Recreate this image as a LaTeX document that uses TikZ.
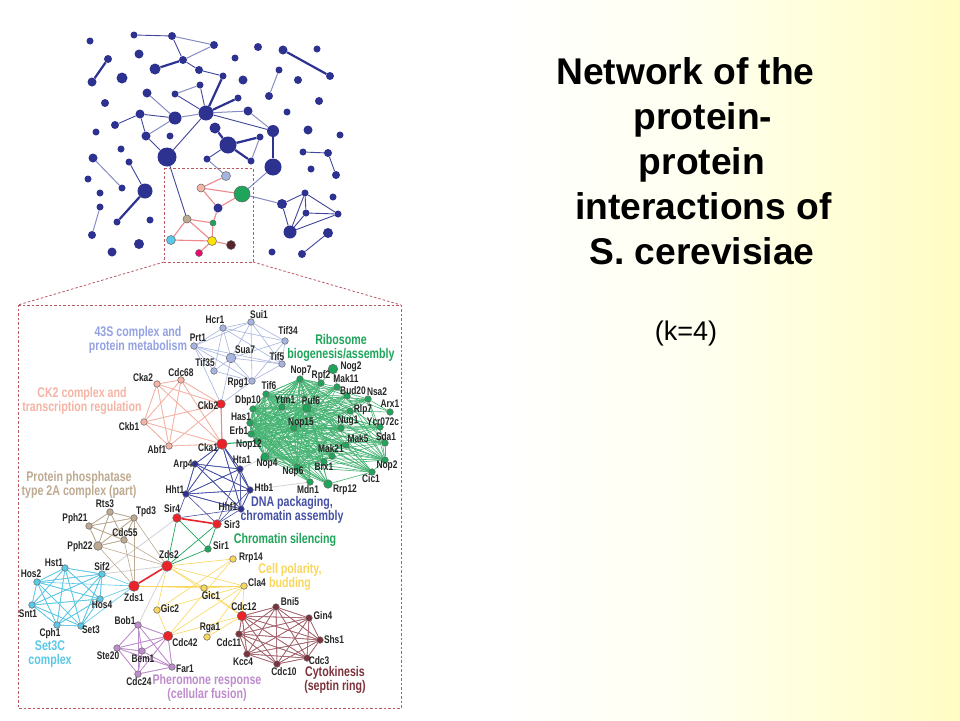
\documentclass[tikz,border=0pt]{standalone}
\usepackage{fontspec}
\setmainfont{Liberation Sans}
\newfontfamily\condf[FakeStretch=0.76]{Liberation Sans}
\definecolor{navy}{RGB}{45,50,145}
\definecolor{navym}{RGB}{65,70,155}
\definecolor{navyl}{RGB}{135,140,195}
\definecolor{bgy}{RGB}{255,252,195}
\definecolor{bgm}{RGB}{255,255,240}
\definecolor{bgn}{RGB}{255,255,222}
\definecolor{redl}{RGB}{240,135,140}
\definecolor{boxr}{RGB}{185,90,100}
\definecolor{peri}{RGB}{165,180,225}
\definecolor{salm}{RGB}{245,180,165}
\definecolor{tanc}{RGB}{190,170,145}
\definecolor{cyanc}{RGB}{90,200,230}
\definecolor{yelc}{RGB}{250,215,90}
\definecolor{purc}{RGB}{190,140,205}
\definecolor{marc}{RGB}{125,50,60}
\definecolor{marl}{RGB}{165,100,110}
\definecolor{grnc}{RGB}{30,165,90}
\definecolor{grnl}{RGB}{70,180,115}
\definecolor{blc}{RGB}{70,80,165}
\definecolor{redn}{RGB}{235,35,40}
\definecolor{greyl}{RGB}{210,210,215}
\pgfdeclarehorizontalshading{bgshade}{100bp}{color(0bp)=(white); color(25bp)=(white); color(51bp)=(white); color(61.5bp)=(bgm); color(66.7bp)=(bgn); color(75bp)=(bgy); color(100bp)=(bgy)}
\pgfdeclarelayer{back}
\pgfdeclarelayer{edge}
\pgfsetlayers{back,edge,main}
\tikzset{
  x=1pt,y=-1pt,
  dotn/.style={circle,inner sep=0pt,fill=navy,draw=none},
  dotc/.style={circle,inner sep=0pt,draw=black!60,line width=0.5pt},
  lab/.style={inner sep=0pt,text=black!85,font=\condf\fontsize{11}{12}\selectfont\bfseries},
  head/.style={inner sep=0pt,align=center,font=\condf\fontsize{14}{14}\selectfont\bfseries},
  titl/.style={inner sep=0pt,anchor=base,font=\fontsize{37.2}{45}\selectfont\bfseries},
  boxl/.style={draw=boxr,line width=0.8pt,dash pattern=on 2.5pt off 2pt},
  tthin/.style={draw=navyl,line width=1pt},
  tmid/.style={draw=navym,line width=0.9pt},
  tthick/.style={draw=navy,line width=2.2pt},
  rl/.style={draw=redl,line width=1.1pt},
  le/.style={line width=0.6pt}
}
\begin{document}
\begin{tikzpicture}
\useasboundingbox (0,0) rectangle (960,720);
\begin{pgfonlayer}{back}
\shade[shading=bgshade] (0,0) rectangle (960,720);
\end{pgfonlayer}
% upper network
\foreach \n/\x/\y/\s in {t0/90/41/7,t1/134/35/7,t2/172/36/8,t3/214/45/8,t4/108/59/8,t5/92/82/9,t6/139/54/9,t7/155/69/11,t8/183/60/8,t9/199/70/8,t10/223/76/7,t11/122/78/11,t12/235/58/7,t13/258/47/8,t14/283/50/9,t15/317/49/7,t16/330/76/8,t17/279/70/7,t18/269/96/8,t19/298/80/8,t20/243/80/9,t21/319/101/8,t22/147/93/9,t23/175/94/7,t24/200/85/7,t25/238/98/7,t26/105/103/8,t27/206/113/15,t28/175/118/13,t29/140/114/9,t30/115/125/8,t31/248/111/9,t32/287/112/7,t33/96/132/7,t34/146/136/9,t35/170/136/7,t36/215/128/11,t37/228/145/17,t38/260/137/7,t39/273/131/12,t40/308/130/9,t41/340/135/7,t42/121/149/7,u1/167/157/19,u2/207/159/7,u3/251/161/7,u4/273/167/17,u5/93/158/9,u7/129/162/7,u8/122/188/7,u9/88/179/7,u10/100/193/7,u11/145/191/15,u12/100/207/7,u13/117/222/7,u14/150/220/7,u15/92/235/8,u16/112/252/9,u17/139/244/10,u21/218/208/9,u28/303/152/7,u29/328/153/8,u30/311/169/7,u31/336/175/8,u32/282/204/10,u33/305/193/7,u34/333/197/7,u35/306/213/7,u36/338/214/7,u37/290/232/13,u38/328/233/10,u39/302/254/8,u40/272/252/7}
  {\node[dotn,minimum size=\s pt] (\n) at (\x,\y) {};}
\foreach \n/\x/\y/\s/\c in {u18/226/176/9/peri,u19/201/188/8/salm,u20/242/194/16/grnc,u22/213/223/6/grnc,u23/187/219/8/tanc,u24/171/240/9/cyanc,u25/212/241/9/yellow!85!orange,u26/231/245/9/marc!70!black,u27/199/253/7/magenta!70!red}
  {\node[dotc,fill=\c,minimum size=\s pt] (\n) at (\x,\y) {};}
\begin{pgfonlayer}{edge}
\foreach \a/\b in {t2/t3,t3/t8,t17/t18,t23/t24,t27/t31,t28/t22,t34/t28,u4/u20,t38/u3,u5/u8,u12/u15,u20/u32,t28/t27,t31/t39,u2/u18}
  \draw[tthin] (\a) -- (\b);
\foreach \a/\b in {t1/t2,t2/t8,t8/t9,t9/t10,t23/t27,t24/t27,t27/t39,t28/t29,t29/t30,t29/t34,t34/u1,u1/t27,t37/u2,u7/u11,u23/u1,u28/u29,u29/u31,u38/u39,u32/u33,u32/u37,u33/u37,u33/u35,u33/u36,u35/u37,u35/u36,u36/u37}
  \draw[tmid] (\a) -- (\b);
\foreach \a/\b in {t7/t8,t10/t27,t4/t5,t14/t16,t25/t27,t36/t37,t37/t38,t37/u3,t39/u4,u11/u13}
  \draw[tthick] (\a) -- (\b);
\foreach \a/\b in {u18/u19,u19/u20,u19/u21,u21/u20,u21/u22,u22/u23,u22/u25,u23/u25,u23/u24,u24/u25,u25/u26,u25/u27}
  \draw[rl] (\a) -- (\b);
\end{pgfonlayer}
% zoom box
\coordinate (za) at (164,168); \coordinate (zb) at (253,168);
\coordinate (zc) at (253,262); \coordinate (zd) at (164,262);
\coordinate (ba) at (18,305); \coordinate (bb) at (401,305);
\coordinate (bc) at (401,708); \coordinate (bd) at (18,708);
\draw[boxl] (za) -- (zb) -- (zc) -- (zd) -- cycle;
\draw[boxl] (ba) -- (bb) -- (bc) -- (bd) -- cycle;
\draw[boxl] (zd) -- (ba);
\draw[boxl] (zc) -- (bb);
% lower network nodes
\foreach \n/\x/\y/\s/\c in {
Prt1/194/346/6/peri,Tif35/214/371/6/peri,Hcr1/223/328/6/peri,Sui1/251/322/6/peri,Tif34/285/341/6/peri,Sua7/231/358/9/peri,Tif5/282/364/6/peri,Rpg1/252/381/6/peri,
Ckb2/221/404/8/redn,Cka1/222/444/10/redn,Cka2/157/384/6/salm,Cdc68/181/380/6/salm,Ckb1/144/422/6/salm,Abf1/169/446/6/salm,
Nop7/300/379/6/grnc,Nog2/333/369/9/grnc,Rpf2/321/383/6/grnc,Mak11/337/387/6/grnc,Bud20/347/396/6/grnc,Nsa2/368/399/6/grnc,Arx1/390/412/6/grnc,Tif6/266/394/6/grnc,Dbp10/253/409/6/grnc,Ytm1/282/407/6/grnc,Puf6/307/408/8/grnc,Rlp7/350/411/6/grnc,Ycr072c/380/427/6/grnc,Nug1/341/428/6/grnc,Sda1/385/443/6/grnc,Has1/250/423/6/grnc,Nop15/294/428/6/grnc,Erb1/251/434/6/grnc,Nop12/257/441/6/grnc,Mak5/346/445/6/grnc,Mak21/332/456/6/grnc,Nop4/265/457/8/grnc,Brx1/324/462/6/grnc,Nop6/297/467/6/grnc,Nop2/385/460/6/grnc,Cic1/372/472/6/grnc,Mdn1/310/482/6/grnc,Rrp12/328/484/8/grnc,
Hta1/240/469/6/navy,Htb1/250/490/6/navy,Hhf1/241/509/6/navy,Arp4/195/464/6/navy,Hht1/186/494/6/navy,
Sir4/177/518/8/redn,Sir3/217/524/8/redn,Sir1/208/549/6/grnc,
Rts3/110/512/6/tanc,Tpd3/134/518/6/tanc,Pph21/89/526/6/tanc,Cdc55/124/540/6/tanc,Pph22/98/546/8/tanc,
Zds2/167/566/10/redn,Zds1/134/586/10/redn,
Hst1/65/568/6/cyanc,Sif2/102/574/6/cyanc,Hos2/37/582/6/cyanc,Snt1/32/605/6/cyanc,Cph1/57/625/6/cyanc,Set3/81/626/6/cyanc,Hos4/100/599/6/cyanc,
Gic1/204/588/6/yelc,Gic2/157/610/6/yelc,Rga1/207/637/6/yelc,Rrp14/233/559/6/yelc,Cla4/244/586/6/yelc,
Cdc42/168/636/9/redn,Cdc12/242/616/9/redn,
Bob1/138/625/6/purc,Ste20/117/648/6/purc,Bem1/142/651/6/purc,Far1/172/667/6/purc,Cdc24/138/674/6/purc,
Bni5/276/607/6/marc,Gin4/309/618/6/marc,Shs1/320/640/6/marc,Cdc3/307/658/6/marc,Cdc10/277/664/6/marc,Kcc4/247/654/6/marc,Cdc11/239/634/6/marc}
  {\node[dotc,fill=\c,minimum size=\s pt+0.6pt] (\n) at (\x,\y) {};}
\begin{pgfonlayer}{edge}
% 43S
\foreach \a/\b in {Prt1/Hcr1,Prt1/Sui1,Prt1/Sua7,Prt1/Tif35,Prt1/Rpg1,Prt1/Tif5,Hcr1/Sui1,Hcr1/Sua7,Hcr1/Tif34,Hcr1/Tif35,Hcr1/Tif5,Sui1/Sua7,Sui1/Tif34,Sui1/Tif5,Sui1/Rpg1,Sua7/Tif35,Sua7/Rpg1,Sua7/Tif34,Sua7/Tif5,Tif35/Rpg1,Rpg1/Tif5,Rpg1/Tif34,Tif34/Tif5,Rpg1/Ckb2,Sua7/Ckb2,Prt1/Ckb2}
  \draw[le,peri] (\a) -- (\b);
% CK2
\foreach \a in {Cka2,Cdc68,Ckb1,Abf1,Ckb2,Cka1}
  \foreach \b in {Cka2,Cdc68,Ckb1,Abf1,Ckb2,Cka1}
    {\ifx\a\b\else\draw[le,salm] (\a) -- (\b);\fi}
\draw[line width=1pt,redl] (Ckb2) -- (Cka1);
% ribosome
\foreach \a in {Nop7,Dbp10,Has1,Erb1,Nop12,Nop4,Nop6,Nop15,Puf6,Tif6}
  \foreach \b in {Nop7,Rpf2,Mak11,Bud20,Nsa2,Tif6,Dbp10,Ytm1,Puf6,Rlp7,Ycr072c,Nug1,Sda1,Has1,Nop15,Erb1,Nop12,Mak5,Mak21,Nop4,Brx1,Nop6,Nop2,Cic1,Mdn1,Rrp12}
    {\ifx\a\b\else\draw[line width=0.6pt,grnl] (\a) -- (\b);\fi}
\foreach \a/\b in {Nog2/Rpf2,Nog2/Mak11,Nsa2/Arx1,Bud20/Arx1,Rlp7/Arx1,Nsa2/Sda1,Nop2/Sda1,Nop2/Cic1,Mak5/Nop2,Ycr072c/Nop2,Mak5/Cic1,Rrp12/Cic1,Bud20/Nop2,Mak11/Sda1,Rlp7/Nop2,Nsa2/Nop2}
  \draw[line width=0.6pt,grnl] (\a) -- (\b);
\draw[line width=1pt,grnc] (Cka1) -- (Nop12);
% DNA packaging
\foreach \a in {Cka1,Arp4,Hht1,Hta1,Htb1,Hhf1}
  \foreach \b in {Cka1,Arp4,Hht1,Hta1,Htb1,Hhf1}
    {\ifx\a\b\else\draw[le,blc] (\a) -- (\b);\fi}
\foreach \a/\b in {Sir4/Hht1,Sir3/Hht1,Sir3/Hhf1,Sir3/Hta1,Sir4/Hhf1,Sir3/Htb1}
  \draw[le,blc] (\a) -- (\b);
\foreach \a/\b in {Nop4/Hta1,Htb1/Mdn1,Sif2/Zds2,Sif2/Sir4,Zds2/Bob1}
  \draw[line width=0.8pt,greyl] (\a) -- (\b);
% silencing
\foreach \a/\b in {Sir4/Sir1,Sir3/Sir1,Sir4/Zds2,Sir3/Zds2,Sir1/Zds2}
  \draw[line width=0.7pt,grnc] (\a) -- (\b);
\draw[line width=1.6pt,redn] (Sir4) -- (Sir3);
\draw[line width=1.6pt,redn] (Zds2) -- (Zds1);
% phosphatase
\foreach \a in {Rts3,Tpd3,Pph21,Cdc55,Pph22}
  \foreach \b in {Rts3,Tpd3,Pph21,Cdc55,Pph22}
    {\ifx\a\b\else\draw[le,tanc] (\a) -- (\b);\fi}
\foreach \a/\b in {Tpd3/Zds2,Cdc55/Zds2,Pph22/Zds2,Tpd3/Zds1,Cdc55/Zds1,Pph22/Zds1}
  \draw[le,tanc] (\a) -- (\b);
% Set3C
\foreach \a in {Hst1,Sif2,Hos2,Snt1,Cph1,Set3,Hos4}
  \foreach \b in {Hst1,Sif2,Hos2,Snt1,Cph1,Set3,Hos4}
    {\ifx\a\b\else\draw[le,cyanc] (\a) -- (\b);\fi}
\foreach \a/\b in {Sif2/Zds1,Hos4/Zds1,Hos2/Zds1,Set3/Zds1}
  \draw[le,cyanc] (\a) -- (\b);
% polarity
\foreach \a/\b in {Zds2/Rrp14,Zds2/Cla4,Zds2/Gic1,Zds2/Cdc12,Zds2/Gic2,Zds1/Gic1,Zds1/Cla4,Gic1/Cla4,Gic1/Cdc12,Gic2/Cdc42,Gic2/Rrp14,Gic2/Cla4,Cdc42/Cla4,Cdc42/Cdc12,Rga1/Cla4,Rga1/Cdc12,Cdc42/Rrp14,Cla4/Cdc12}
  \draw[le,yelc] (\a) -- (\b);
% pheromone
\foreach \a in {Bob1,Cdc42,Ste20,Bem1,Far1,Cdc24}
  \foreach \b in {Bob1,Cdc42,Ste20,Bem1,Far1,Cdc24}
    {\ifx\a\b\else\draw[le,purc] (\a) -- (\b);\fi}
% cytokinesis
\foreach \a in {Cdc12,Bni5,Gin4,Shs1,Cdc3,Cdc10,Kcc4,Cdc11}
  \foreach \b in {Cdc12,Bni5,Gin4,Shs1,Cdc3,Cdc10,Kcc4,Cdc11}
    {\ifx\a\b\else\draw[le,marl] (\a) -- (\b);\fi}
\end{pgfonlayer}
% protein labels
\foreach \n/\x/\y in {Prt1/198/338,Hcr1/215/320,Sui1/259/315,Tif34/288/331,Sua7/245/350,Tif5/277/357,Rpg1/238/383,Tif35/205/363,Ckb2/208/406,Cka1/208/448,Cka2/143/378,Cdc68/181/373,Ckb1/129/427,Abf1/157/450,
Nop7/301/371,Nog2/351/367,Rpf2/321/376,Mak11/346/379,Bud20/353/391,Nsa2/377/392,Arx1/390/404,Tif6/269/386,Dbp10/248/401,Ytm1/285/400,Puf6/311/401,Rlp7/363/410,Ycr072c/383/422,Nug1/348/421,Sda1/386/437,Has1/241/417,Nop15/301/423,Erb1/239/431,Nop12/249/445,Mak5/358/439,Mak21/331/449,Nop4/267/464,Brx1/324/467,Nop6/293/472,Nop2/387/466,Cic1/371/479,Mdn1/308/490,Rrp12/345/490,
Hta1/242/460,Htb1/264/488,Hhf1/228/507,Arp4/183/465,Hht1/175/490,Sir4/172/509,Sir3/232/525,Sir1/221/546,Rts3/105/504,Tpd3/146/512,Pph21/75/519,Cdc55/125/533,Pph22/80/547,Zds2/169/555,Hst1/54/563,Sif2/102/567,Hos2/31/574,Snt1/28/614,Cph1/50/634,Set3/91/630,Hos4/102/605,Zds1/134/598,Gic1/211/596,Gic2/170/609,Rga1/210/628,Bob1/125/621,Cdc42/185/643,Ste20/108/656,Bem1/143/659,Far1/185/669,Cdc24/139/682,Rrp14/251/558,Cla4/257/583,Cdc12/244/607,Bni5/290/602,Gin4/323/616,Shs1/334/640,Cdc3/319/661,Cdc10/284/672,Kcc4/243/662,Cdc11/229/643}
  {\node[lab] (l\n) at (\x,\y) {\n};}
% group headings
\node[head,text=peri!90!blue] (h1) at (138,340) {43S complex and\\protein metabolism};
\node[head,text=salm] (h2) at (82,401) {CK2 complex and\\transcription regulation};
\node[head,text=tanc] (h3) at (79,485) {Protein phosphatase\\type 2A complex (part)};
\node[head,text=cyanc] (h4) at (50,654) {Set3C\\complex};
\node[head,text=purc] (h5) at (207,688) {Pheromone response\\(cellular fusion)};
\node[head,text=marc] (h6) at (335,680) {Cytokinesis\\(septin ring)};
\node[head,text=yelc] (h7) at (290,577) {Cell polarity,\\budding};
\node[head,text=grnc] (h8) at (285,540) {Chromatin silencing};
\node[head,text=blc] (h9) at (292,510) {DNA packaging,\\chromatin assembly};
\node[head,text=grnc] (h10) at (341,348) {Ribosome\\biogenesis/assembly};
% title
\node[titl] (a1) at (685.5,84) {Network of the};
\node[titl] (a2) at (703,129) {protein-};
\node[titl] (a3) at (702,174) {protein};
\node[titl] (a4) at (703.5,219) {interactions of};
\node[titl] (a5) at (702,264) {S. cerevisiae};
\node[inner sep=0pt,font=\fontsize{27}{30}\selectfont] (a6) at (686,334) {(k=4)};
\end{tikzpicture}
\end{document}
